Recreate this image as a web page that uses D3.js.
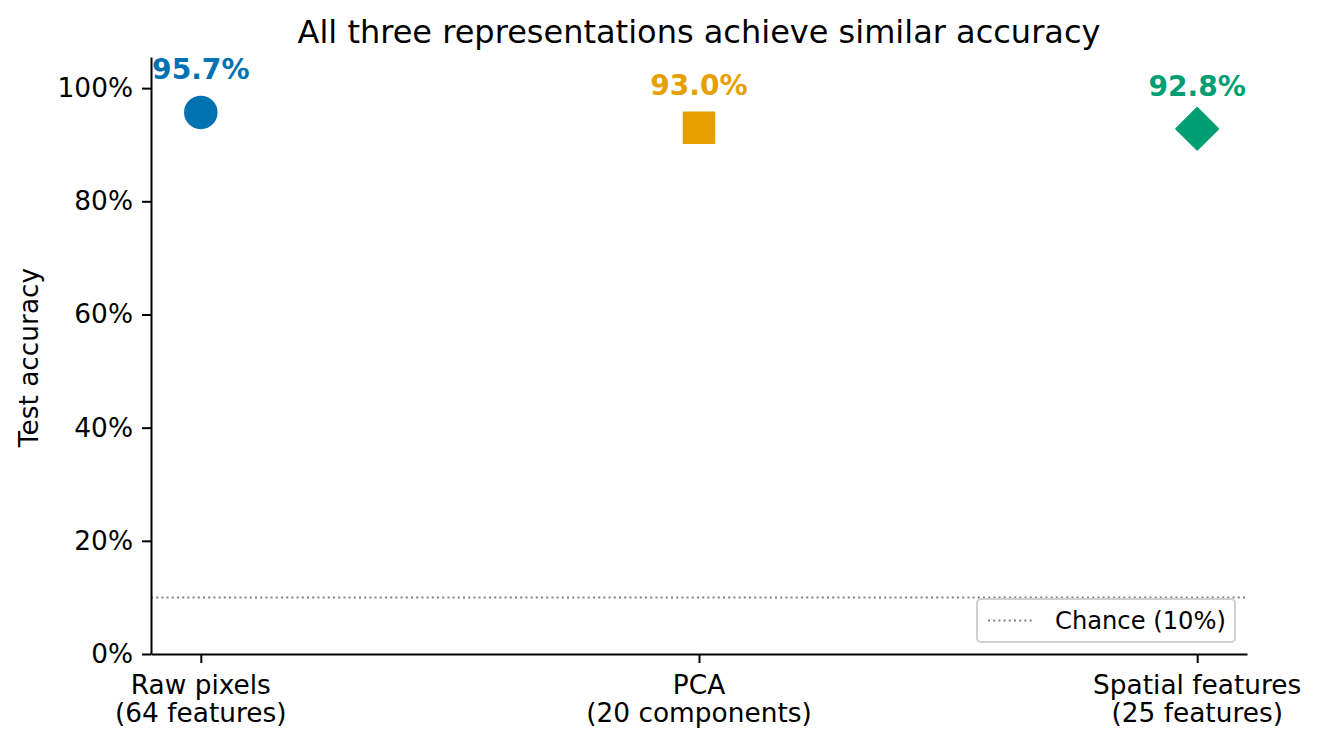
<!DOCTYPE html>
<html>
<head>
<meta charset="utf-8">
<script src="https://cdn.jsdelivr.net/npm/d3@7"></script>
<style>
  body { margin: 0; background: #fff; }
  text { font-family: "DejaVu Sans", sans-serif; }
</style>
</head>
<body>
<script>
const width = 1320, height = 748;
const margin = {left: 151, right: 73, top: 57, bottom: 94};

// data
const methods = ["Raw pixels", "PCA", "Spatial features"];
const methodNotes = ["(64 features)", "(20 components)", "(25 features)"];
const accuracy = [0.957, 0.930, 0.928];
const markerShapes = ["circle", "square", "diamond"];
const colors = ["#0072B2", "#E69F00", "#009E73"];
const yTicks = [0, 0.2, 0.4, 0.6, 0.8, 1.0];
const chanceLevel = 0.10;

const svg = d3.select("body").append("svg").attr("width", width).attr("height", height);

const x = d3.scaleLinear().domain([-0.1, 2.1]).range([margin.left, width - margin.right]);
const y = d3.scaleLinear().domain([0, 1.055]).range([height - margin.bottom, margin.top]);

// chance line
svg.append("line")
  .attr("x1", x.range()[0]).attr("x2", x.range()[1])
  .attr("y1", y(chanceLevel)).attr("y2", y(chanceLevel))
  .attr("stroke", "#808080").attr("stroke-width", 2)
  .attr("stroke-dasharray", "2,3.2");

// y axis
const yAxis = svg.append("g").attr("transform", `translate(${margin.left},0)`)
  .call(d3.axisLeft(y).tickValues(yTicks).tickFormat(d3.format(".0%")).tickSizeInner(9).tickSizeOuter(0).tickPadding(9));
yAxis.select(".domain").attr("stroke", "#000").attr("stroke-width", 2);
yAxis.selectAll(".tick line").attr("stroke-width", 2);
yAxis.selectAll(".tick text").attr("font-size", "26.4px").attr("fill", "#000").attr("font-family", "DejaVu Sans");

// x axis
const xAxis = svg.append("g").attr("transform", `translate(0,${y(0)})`)
  .call(d3.axisBottom(x).tickValues([0, 1, 2]).tickFormat("").tickSizeInner(9).tickSizeOuter(0));
xAxis.select(".domain").attr("stroke", "#000").attr("stroke-width", 2);
xAxis.selectAll(".tick line").attr("stroke-width", 2);

const xLabels = svg.append("g").selectAll("text").data(methods).join("text")
  .attr("x", (d, i) => x(i)).attr("y", y(0) + 40)
  .attr("text-anchor", "middle").attr("font-size", "26.4px").attr("fill", "#000");
xLabels.append("tspan").attr("x", (d, i) => x(i)).text(d => d);
xLabels.append("tspan").attr("x", (d, i) => x(i)).attr("dy", 28).text((d, i) => methodNotes[i]);

// markers
const symbolFor = {circle: d3.symbolCircle, square: d3.symbolSquare, diamond: d3.symbolSquare};
const symbolSize = {circle: Math.PI * 16 * 16, square: 31 * 31, diamond: 30 * 30};
svg.append("g").selectAll("path").data(accuracy).join("path")
  .attr("transform", (d, i) => `translate(${x(i)},${y(d)})` + (markerShapes[i] === "diamond" ? " rotate(45)" : ""))
  .attr("d", (d, i) => d3.symbol(symbolFor[markerShapes[i]], symbolSize[markerShapes[i]])())
  .attr("fill", (d, i) => colors[i])
  .attr("stroke", (d, i) => colors[i]).attr("stroke-width", 1.5).attr("stroke-linejoin", "round");

// value labels
svg.append("g").selectAll("text").data(accuracy).join("text")
  .attr("x", (d, i) => x(i)).attr("y", d => y(d) - 33)
  .attr("text-anchor", "middle").attr("font-size", "28.1px").attr("font-weight", "bold")
  .attr("fill", (d, i) => colors[i])
  .text(d => d3.format(".1%")(d));

// title and y label
svg.append("text")
  .attr("x", (margin.left + width - margin.right) / 2).attr("y", 43)
  .attr("text-anchor", "middle").attr("font-size", "32px").attr("fill", "#000")
  .text("All three representations achieve similar accuracy");

svg.append("text")
  .attr("transform", `translate(38,${(margin.top + height - margin.bottom) / 2 + 2}) rotate(-90)`)
  .attr("text-anchor", "middle").attr("font-size", "26.4px").attr("fill", "#000")
  .text("Test accuracy");

// legend
const legend = svg.append("g").attr("transform", "translate(977,599)");
legend.append("rect").attr("width", 258).attr("height", 43).attr("rx", 4)
  .attr("fill", "#fff").attr("fill-opacity", 0.8)
  .attr("stroke", "#d0d0d0").attr("stroke-width", 2);
legend.append("line").attr("x1", 11).attr("x2", 57).attr("y1", 21.5).attr("y2", 21.5)
  .attr("stroke", "#808080").attr("stroke-width", 2).attr("stroke-dasharray", "2,3.2");
legend.append("text").attr("x", 78).attr("y", 30).attr("font-size", "24.2px").attr("fill", "#000")
  .text("Chance (10%)");
</script>
</body>
</html>
